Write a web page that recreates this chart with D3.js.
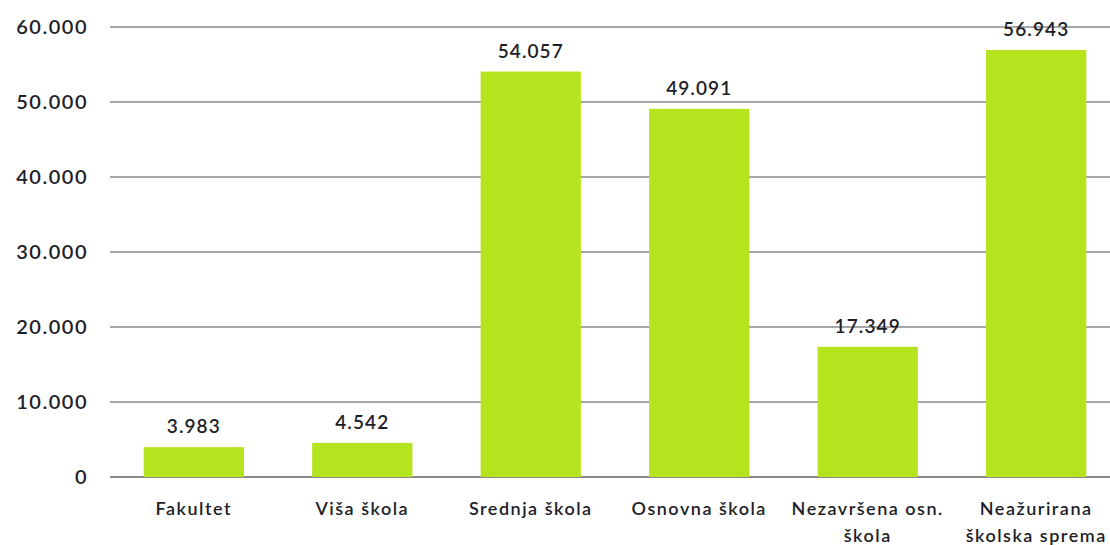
<!DOCTYPE html>
<html>
<head>
<meta charset="utf-8">
<script src="https://cdn.jsdelivr.net/npm/d3@7"></script>
<style>
  body { margin: 0; background: #fff; }
  svg text { font-family: Lato, "Open Sans", sans-serif; fill: #1e1e28; }
</style>
</head>
<body>
<div class="chart"></div>
<script>
// Data
var categories = ["Fakultet", "Viša škola", "Srednja škola", "Osnovna škola", "Nezavršena osn. škola", "Neažurirana školska sprema"];
var values = [3983, 4542, 54057, 49091, 17349, 56943];
var yTicks = [0, 10000, 20000, 30000, 40000, 50000, 60000];

var width = 1110;
var height = 545;

// Plot area (chart runs off the right edge like the original)
var margin = {left: 110, right: 1120, top: 27, bottom: 477};

var svg = d3.select("div.chart")
    .append("svg")
    .attr("width", width)
    .attr("height", height);

var x = d3.scaleBand()
    .domain(categories)
    .range([margin.left, margin.right])
    .paddingInner(0.405)
    .paddingOuter(0.2);

var y = d3.scaleLinear()
    .domain([0, 60000])
    .range([margin.bottom, margin.top]);

// Number format with dot as thousands separator
var fmt = d3.formatLocale({decimal: ",", thousands: ".", grouping: [3], currency: ["", ""]}).format(",d");

// Gridlines
svg.append("g")
    .selectAll("line")
    .data(yTicks)
    .join("line")
      .attr("x1", margin.left)
      .attr("x2", width)
      .attr("y1", d => y(d))
      .attr("y2", d => y(d))
      .attr("stroke", d => d === 0 ? "#8a8a8a" : "#a6a6a6")
      .attr("stroke-width", 2);

// Y tick labels
svg.append("g")
    .selectAll("text")
    .data(yTicks)
    .join("text")
      .attr("x", 88)
      .attr("y", d => y(d))
      .attr("dy", "0.35em")
      .attr("text-anchor", "end")
      .attr("font-size", 20)
      .attr("font-weight", 600)
      .attr("letter-spacing", 1.5)
      .text(d => fmt(d));

// Bars
svg.append("g")
    .selectAll("rect")
    .data(values)
    .join("rect")
      .attr("x", (d, i) => x(categories[i]))
      .attr("width", x.bandwidth())
      .attr("y", d => y(d))
      .attr("height", d => y(0) - y(d))
      .attr("fill", "#b4e41e");

// Value labels above bars
svg.append("g")
    .selectAll("text")
    .data(values)
    .join("text")
      .attr("x", (d, i) => x(categories[i]) + x.bandwidth() / 2)
      .attr("y", d => y(d) - 14)
      .attr("text-anchor", "middle")
      .attr("font-size", 19)
      .attr("font-weight", 600)
      .attr("letter-spacing", 1.1)
      .text(d => fmt(d));

// Category labels, wrapped
var catText = svg.append("g")
    .selectAll("text")
    .data(categories)
    .join("text")
      .attr("x", d => x(d) + x.bandwidth() / 2)
      .attr("y", 515)
      .attr("text-anchor", "middle")
      .attr("font-size", 18)
      .attr("font-weight", 600)
      .attr("letter-spacing", 1.5)
      .text(d => d);

catText.each(function (d) {
    var text = d3.select(this);
    var words = d.split(" ");
    var cx = text.attr("x");
    var maxW = 168;
    text.text(null);
    var line = [];
    var tspan = text.append("tspan").attr("x", cx).attr("dy", 0);
    words.forEach(function (w) {
        line.push(w);
        tspan.text(line.join(" "));
        if (tspan.node().getComputedTextLength() > maxW && line.length > 1) {
            line.pop();
            tspan.text(line.join(" "));
            line = [w];
            tspan = text.append("tspan").attr("x", cx).attr("dy", 27).text(w);
        }
    });
});
</script>
</body>
</html>
